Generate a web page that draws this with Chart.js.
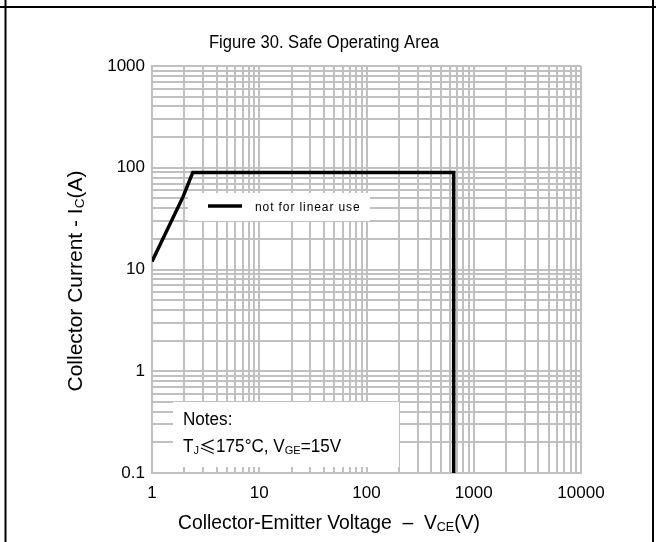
<!DOCTYPE html>
<html>
<head>
<meta charset="utf-8">
<script src="https://cdn.jsdelivr.net/npm/chart.js@4"></script>
<style>
  html, body { margin: 0; padding: 0; background: #fff; }
  #wrap { width: 656px; height: 542px; position: relative; }
</style>
</head>
<body>
<div id="wrap"><canvas id="graph"></canvas></div>
<script>
// safe operating area curve
const voltage = [1, 1.95, 2.4, 650, 650];
const current = [12, 52, 90, 90, 0.1];

const xDecades = [1, 10, 100, 1000];
const yDecades = [0.1, 1, 10, 100];
const minorSteps = [1, 2, 3, 4, 5, 6, 7, 8, 9];
const xLabels = ['1', '10', '100', '1000', '10000'];
const yLabels = ['0.1', '1', '10', '100', '1000'];

const seriesLabel = 'not for linear use';

// grid values for a log axis: every 1..9 step in each decade plus the last decade
function gridValues(decades) {
    let vals = [];
    decades.forEach(function (d) {
        minorSteps.forEach(function (m) {
            vals.push(parseFloat((d * m).toPrecision(6)));
        });
    });
    vals.push(decades[decades.length - 1] * 10);
    return vals;
}

const FONT = '"Liberation Sans", Arial, sans-serif';
const CJK = '"Noto Sans CJK SC", sans-serif';

function partFont(p, size) {
    return (p.sub ? size * 0.65 : size) + 'px ' + (p.cjk ? CJK : FONT);
}

function partsWidth(ctx, parts, size) {
    let total = 0;
    parts.forEach(function (p) {
        ctx.font = partFont(p, size);
        total += ctx.measureText(p.t).width;
    });
    return total;
}

// draws text with subscript parts starting at x (sx squeezes it sideways)
function drawLeft(ctx, parts, x, y, size, sx) {
    sx = sx || 1;
    ctx.save();
    ctx.translate(x, y);
    ctx.scale(sx, 1);
    let cx = 0;
    parts.forEach(function (p) {
        ctx.font = partFont(p, size);
        ctx.fillText(p.t, cx, p.sub ? size * 0.22 : 0);
        cx += ctx.measureText(p.t).width;
    });
    ctx.restore();
}

function drawCentred(ctx, parts, x, y, size, sx) {
    sx = sx || 1;
    drawLeft(ctx, parts, x - partsWidth(ctx, parts, size) * sx / 2, y, size, sx);
}

const decor = {
    id: 'decor',
    beforeDatasetsDraw(chart) {
        const ctx = chart.ctx;
        ctx.save();
        ctx.fillStyle = '#fff';
        // legend box and notes box cover the grid
        ctx.fillRect(188, 193, 182, 28);
        ctx.fillRect(173, 402, 226, 65);
        ctx.restore();
    },
    afterDraw(chart) {
        const ctx = chart.ctx;
        ctx.save();
        // page frame
        ctx.strokeStyle = '#000';
        ctx.lineWidth = 2;
        ctx.beginPath();
        ctx.moveTo(0, 7); ctx.lineTo(656, 7);
        ctx.moveTo(5.5, 0); ctx.lineTo(5.5, 542);
        ctx.moveTo(653, 0); ctx.lineTo(653, 542);
        ctx.stroke();

        ctx.fillStyle = '#000';
        ctx.textBaseline = 'middle';
        ctx.textAlign = 'left';

        // title
        drawCentred(ctx, [{t: 'Figure 30. Safe Operating Area'}], 324, 43, 18, 0.92);

        // x title
        drawCentred(ctx, [{t: 'Collector-Emitter Voltage  \u2013  V'}, {t: 'CE', sub: true}, {t: '(V)'}], 329, 523, 21, 0.92);

        // y title
        ctx.save();
        ctx.translate(76, 281);
        ctx.rotate(-Math.PI / 2);
        drawCentred(ctx, [{t: 'Collector Current - I'}, {t: 'C', sub: true}, {t: '(A)'}], 0, 0, 21, 1);
        ctx.restore();

        // legend
        ctx.strokeStyle = '#000';
        ctx.lineWidth = 3.5;
        ctx.beginPath();
        ctx.moveTo(208, 206); ctx.lineTo(242, 206);
        ctx.stroke();
        ctx.font = '12px ' + FONT;
        ctx.letterSpacing = '0.9px';
        ctx.fillText(seriesLabel, 255, 208);
        ctx.letterSpacing = '0px';

        // notes
        drawLeft(ctx, [{t: 'Notes:'}], 183, 420, 18, 0.95);
        drawLeft(ctx, [{t: 'T'}, {t: 'J', sub: true}, {t: '\u2264', cjk: true}, {t: '175\u00b0C, V'}, {t: 'GE', sub: true}, {t: '=15V'}], 183, 447, 18, 0.95);
        ctx.restore();
    }
};

function logAxis(min, max, values, labels, fitter) {
    return {
        type: 'logarithmic',
        min: min,
        max: max,
        afterBuildTicks: function (scale) {
            scale.ticks = values.map(function (v) { return {value: v}; });
        },
        afterFit: fitter,
        ticks: {
            autoSkip: false,
            maxRotation: 0,
            color: '#000',
            font: {family: FONT, size: 17},
            callback: function (v) {
                let s = String(parseFloat(Number(v).toPrecision(6)));
                return labels.indexOf(s) >= 0 ? s : '';
            }
        },
        grid: {color: '#c0c0c0', lineWidth: 2, drawTicks: false},
        border: {color: '#c0c0c0', width: 2}
    };
}

const xAxis = logAxis(1, 10000, gridValues(xDecades), xLabels, function (s) { s.height = 69; });
xAxis.ticks.padding = 10;
const yAxis = logAxis(0.1, 1000, gridValues(yDecades), yLabels, function (s) { s.width = 152; });
yAxis.ticks.padding = 7;

new Chart(document.getElementById('graph').getContext('2d'), {
    type: 'scatter',
    data: {
        datasets: [{
            label: seriesLabel,
            data: voltage.map(function (v, i) { return {x: v, y: current[i]}; }),
            showLine: true,
            borderColor: '#000',
            borderWidth: 3.5,
            pointRadius: 0,
            fill: false,
            tension: 0
        }]
    },
    options: {
        responsive: true,
        maintainAspectRatio: false,
        animation: false,
        layout: {padding: {top: 66, right: 75, left: 0, bottom: 0}},
        plugins: {legend: {display: false}, tooltip: {enabled: false}},
        scales: {x: xAxis, y: yAxis}
    },
    plugins: [decor]
});
</script>
</body>
</html>
